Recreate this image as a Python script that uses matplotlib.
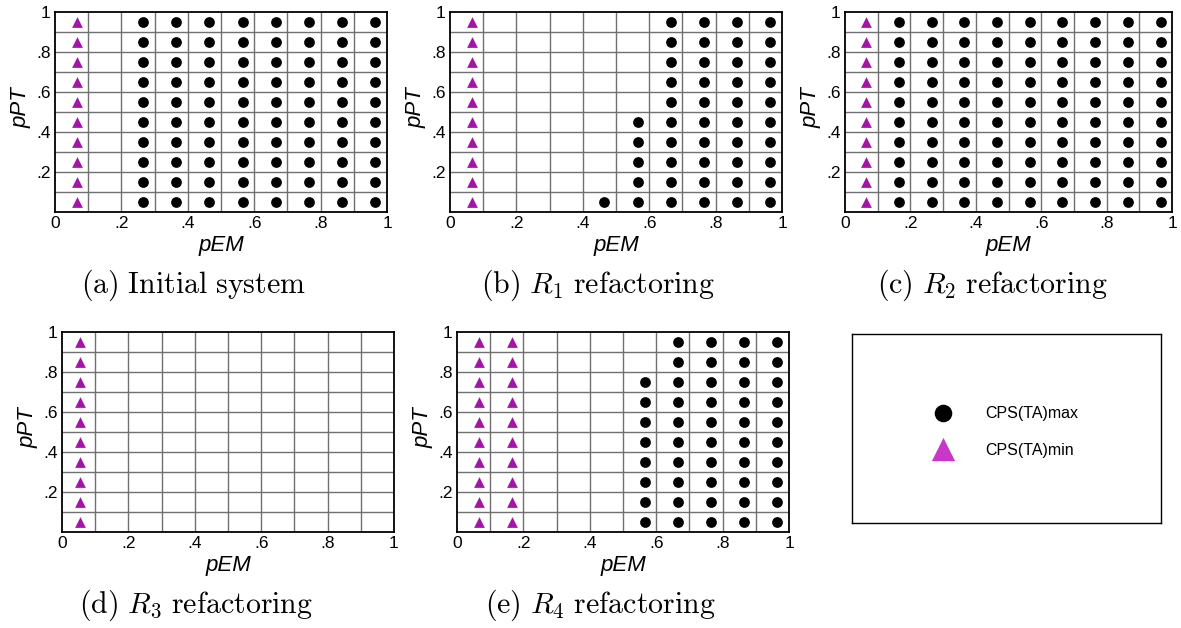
import numpy as np
import matplotlib
matplotlib.use("Agg")
import matplotlib.pyplot as plt

plt.rcParams['font.family'] = ['Liberation Sans', 'DejaVu Sans']
plt.rcParams['mathtext.fontset'] = 'cm'

W, H = 1181, 628

# grid of pPT values (rows), shared by all panels
ppt = [0.05, 0.15, 0.25, 0.35, 0.45, 0.55, 0.65, 0.75, 0.85, 0.95]

# CPS(TA)min columns (triangles) per panel
tri_a = [0.065]
tri_b = [0.065]
tri_c = [0.065]
tri_d = [0.055]
tri_e = [0.065, 0.165]

# CPS(TA)max points (circles): column pEM -> lowest/highest pPT row covered
dots_a_x = [0.265, 0.365, 0.465, 0.565, 0.665, 0.765, 0.865, 0.965]
dots_a_rows = [(0.05, 0.95)] * 8
dots_b_x = [0.465, 0.565, 0.665, 0.765, 0.865, 0.965]
dots_b_rows = [(0.05, 0.05), (0.05, 0.45), (0.05, 0.95), (0.05, 0.95), (0.05, 0.95), (0.05, 0.95)]
dots_c_x = [0.165, 0.265, 0.365, 0.465, 0.565, 0.665, 0.765, 0.865, 0.965]
dots_c_rows = [(0.05, 0.95)] * 9
dots_d_x = []
dots_d_rows = []
dots_e_x = [0.565, 0.665, 0.765, 0.865, 0.965]
dots_e_rows = [(0.05, 0.75), (0.05, 0.95), (0.05, 0.95), (0.05, 0.95), (0.05, 0.95)]

captions = [r"$\mathrm{(a)\ Initial\ system}$",
            r"$\mathrm{(b)}\ R_1\ \mathrm{refactoring}$",
            r"$\mathrm{(c)}\ R_2\ \mathrm{refactoring}$",
            r"$\mathrm{(d)}\ R_3\ \mathrm{refactoring}$",
            r"$\mathrm{(e)}\ R_4\ \mathrm{refactoring}$"]

ticks = [0, 0.2, 0.4, 0.6, 0.8, 1]
tick_labels = ["0", ".2", ".4", ".6", ".8", "1"]
yticks = [0.2, 0.4, 0.6, 0.8, 1]
ytick_labels = [".2", ".4", ".6", ".8", "1"]

tri_color = "#a414a8"
dot_color = "black"

fig = plt.figure(figsize=(W / 100, H / 100), dpi=100)


def px_axes(l, t, r, b):
    return fig.add_axes([l / W, 1 - b / H, (r - l) / W, (b - t) / H])


# (axes box in px, triangles, dot columns, dot rows, caption index, caption centre x)
panels = [
    ((55, 12, 387, 212), tri_a, dots_a_x, dots_a_rows, 0, 193),
    ((450, 12, 782, 212), tri_b, dots_b_x, dots_b_rows, 1, 598),
    ((845, 12, 1172, 212), tri_c, dots_c_x, dots_c_rows, 2, 992),
    ((62, 332, 394, 532), tri_d, dots_d_x, dots_d_rows, 3, 196),
    ((457, 332, 789, 532), tri_e, dots_e_x, dots_e_rows, 4, 600),
]

for box, tris, dx, drows, idx, cx in panels:
    ax = px_axes(*box)
    ax.set_xlim(0, 1)
    ax.set_ylim(0, 1)
    for g in np.arange(0.1, 1.0, 0.1):
        ax.axvline(g, color="#707070", lw=1.0, zorder=1)
        ax.axhline(g, color="#707070", lw=1.0, zorder=1)
    for tx in tris:
        ax.scatter([tx] * len(ppt), ppt, marker="^", s=60, color=tri_color,
                   linewidths=0, zorder=3)
    for x, (lo, hi) in zip(dx, drows):
        ys = [y for y in ppt if lo - 1e-9 <= y <= hi + 1e-9]
        ax.scatter([x] * len(ys), ys, marker="o", s=60, color=dot_color,
                   linewidths=0, zorder=3)
    ax.set_xticks(ticks)
    ax.set_xticklabels(tick_labels, fontsize=12.5)
    ax.set_yticks(yticks)
    ax.set_yticklabels(ytick_labels, fontsize=12.5)
    ax.tick_params(length=0, pad=3)
    for s in ax.spines.values():
        s.set_linewidth(1.3)
    bw, bh = box[2] - box[0], box[3] - box[1]
    ax.text(0.5, -34 / bh, "pEM", fontsize=16, style="italic",
            ha="center", va="center", transform=ax.transAxes)
    ax.text(-34 / bw, 0.52, "pPT", fontsize=16, style="italic", rotation=90,
            ha="center", va="center", transform=ax.transAxes)
    fig.text(cx / W, 1 - (box[3] + 73) / H, captions[idx], fontsize=21.5,
             ha="center", va="center")

# legend panel
lg = px_axes(852, 334, 1161, 523)
lg.set_xlim(0, 1)
lg.set_ylim(0, 1)
lg.set_xticks([])
lg.set_yticks([])
for s in lg.spines.values():
    s.set_linewidth(1.0)
lg.scatter([0.295], [0.58], marker="o", s=160, color="black", linewidths=0)
lg.scatter([0.295], [0.39], marker="^", s=280, color="#c936c9", linewidths=0)
lg.text(0.43, 0.58, "CPS(TA)max", fontsize=11.5, va="center")
lg.text(0.43, 0.385, "CPS(TA)min", fontsize=11.5, va="center")

fig.savefig("out.png", dpi=100)
